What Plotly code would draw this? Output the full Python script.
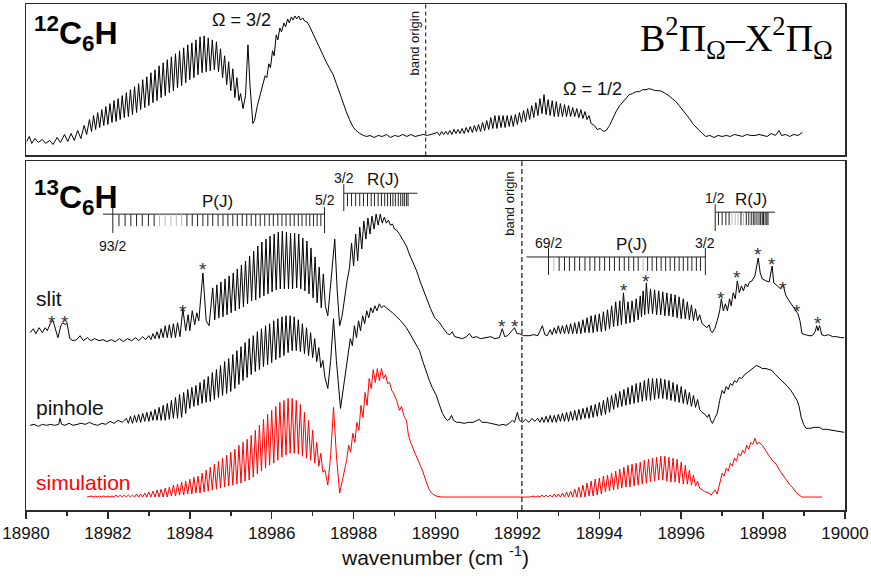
import plotly.graph_objects as go

# ---------------- data (wavenumber, intensity in arbitrary units) ----------------
X_RANGE = [18980, 19000]
TOP_RANGE = [0, 152]
BOT_RANGE = [0, 350]

C12H = [
 (18980.02,14),(18980.08,19),(18980.14,12),(18980.22,17),(18980.30,13),(18980.40,16),(18980.48,12),(18980.58,15),
 (18980.66,11),(18980.76,18),(18980.84,13),(18980.94,21),(18981.02,14),(18981.10,22),(18981.18,15),(18981.26,25),
 (18981.34,17),(18981.42,30),(18981.48,21),
 (18981.55,36),(18981.60,24),(18981.65,40),(18981.70,26),(18981.75,43),(18981.80,28),(18981.85,46),(18981.90,30),
 (18981.95,49),(18982.00,31),(18982.05,52),(18982.10,33),(18982.15,55),(18982.20,34),(18982.25,57),(18982.30,36),
 (18982.35,60),(18982.40,38),(18982.45,63),(18982.50,39),(18982.55,66),(18982.60,41),(18982.65,69),(18982.70,43),
 (18982.75,72),(18982.80,46),(18982.85,76),(18982.90,48),(18982.95,79),(18983.00,50),(18983.05,83),(18983.10,53),
 (18983.15,86),(18983.20,55),(18983.25,90),(18983.30,58),(18983.35,93),(18983.40,60),(18983.45,96),(18983.50,63),
 (18983.55,99),(18983.60,65),(18983.65,102),(18983.70,68),(18983.75,105),(18983.80,70),(18983.85,108),(18983.90,73),
 (18983.95,111),(18984.00,76),(18984.05,113),(18984.10,78),(18984.15,116),(18984.20,81),(18984.25,119),(18984.30,83),
 (18984.35,120),(18984.40,84),(18984.45,118),(18984.50,85),(18984.55,116),(18984.60,86),(18984.65,114),(18984.70,84),
 (18984.75,107),(18984.80,78),(18984.85,100),(18984.90,71),(18984.95,94),(18985.00,65),(18985.05,87),(18985.10,58),
 (18985.15,78),(18985.20,55),(18985.24,62),(18985.30,47),(18985.36,60),(18985.42,111),(18985.47,70),(18985.54,32),
 (18985.58,35),(18985.65,50),(18985.70,58),(18985.75,66),(18985.79,71),(18985.84,80),(18985.88,78),(18985.93,92),
 (18985.97,88),(18986.02,105),(18986.06,100),(18986.11,121),(18986.15,116),(18986.20,128),(18986.24,124),(18986.30,133),
 (18986.34,129),(18986.39,137),(18986.43,133),(18986.48,139),(18986.52,136),(18986.57,140),(18986.61,137),(18986.66,140),
 (18986.70,136),(18986.76,138),(18986.80,135),(18986.86,134),(18986.92,130),(18987.00,123),(18987.09,114),(18987.17,107),
 (18987.25,100),(18987.33,94),(18987.42,87),(18987.50,81),(18987.58,72),(18987.66,62),(18987.74,52),(18987.82,44),
 (18987.90,36),(18987.98,29),(18988.06,25),(18988.15,22),(18988.24,20),(18988.32,19),(18988.40,20),(18988.50,18),
 (18988.60,20),(18988.70,19),(18988.80,21),(18988.90,18),(18989.00,20),(18989.10,19),(18989.20,21),(18989.30,19),
 (18989.40,21),(18989.50,19),(18989.60,20),(18989.70,21),(18989.80,20),(18989.90,21),(18990.00,22),
 (18990.05,23),(18990.10,20),(18990.15,24),(18990.20,21),(18990.25,24),(18990.30,21),(18990.35,25),(18990.40,21),
 (18990.45,26),(18990.50,22),(18990.55,26),(18990.60,22),(18990.65,27),(18990.70,22),(18990.75,28),(18990.80,23),
 (18990.85,29),(18990.90,23),(18990.95,30),(18991.00,24),(18991.05,31),(18991.10,24),(18991.15,33),(18991.20,25),
 (18991.25,35),(18991.30,26),(18991.35,38),(18991.40,27),(18991.45,40),(18991.50,27),(18991.55,40),(18991.60,28),
 (18991.65,40),(18991.70,28),(18991.75,40),(18991.80,29),(18991.85,40),(18991.90,29),(18991.95,41),(18992.00,31),
 (18992.05,43),(18992.10,33),(18992.15,45),(18992.20,34),(18992.25,47),(18992.30,36),(18992.35,50),(18992.40,38),
 (18992.45,53),(18992.50,40),(18992.55,57),(18992.60,42),(18992.65,61),(18992.70,41),(18992.75,56),(18992.80,40),
 (18992.85,55),(18992.90,39),(18992.95,54),(18993.00,39),(18993.05,52),(18993.10,39),(18993.15,51),(18993.20,39),
 (18993.25,50),(18993.30,39),(18993.35,48),(18993.40,39),(18993.45,47),(18993.50,38),(18993.55,46),(18993.60,37),
 (18993.65,44),(18993.70,36),(18993.75,40),
 (18993.80,32),(18993.88,30),(18993.95,26),(18994.02,27),(18994.10,24),(18994.17,25),(18994.25,30),(18994.33,37),
 (18994.41,44),(18994.50,50),(18994.58,54),(18994.66,58),(18994.73,61),(18994.81,62),(18994.90,64),(18994.98,64),
 (18995.06,66),(18995.14,66),(18995.22,67),(18995.30,66),(18995.38,65),(18995.46,65),(18995.54,64),(18995.62,62),
 (18995.70,60),(18995.78,57),(18995.87,54),(18995.95,50),(18996.03,46),(18996.12,41),(18996.20,37),(18996.28,32),
 (18996.36,28),(18996.44,25),(18996.52,22),(18996.60,19),(18996.70,20),(18996.80,18),(18996.90,20),(18997.00,19),
 (18997.10,20),(18997.20,19),(18997.30,21),(18997.40,20),(18997.50,19),(18997.60,21),(18997.70,20),(18997.80,20),
 (18997.90,21),(18998.00,20),(18998.10,19),(18998.20,22),(18998.30,20),(18998.39,25),(18998.45,20),(18998.55,21),
 (18998.65,19),(18998.75,21),(18998.85,20),(18998.96,23),
]

SLIT = [
 (18980.10,178),(18980.18,182),(18980.24,177),(18980.32,183),(18980.40,178),(18980.47,183),(18980.52,180),(18980.60,188),
 (18980.66,190),(18980.72,180),(18980.78,173),(18980.85,185),(18980.90,188),(18980.96,186),(18981.00,188),(18981.07,172),
 (18981.15,170),(18981.24,171),(18981.32,175),(18981.40,170),(18981.50,173),(18981.58,170),(18981.68,172),(18981.78,170),
 (18981.88,171),(18981.98,169),(18982.08,171),(18982.18,169),(18982.28,172),(18982.38,169),(18982.48,172),(18982.58,170),
 (18982.68,173),(18982.75,170),(18982.85,174),(18982.92,171),
 (18983.00,175),(18983.05,171),(18983.10,177),(18983.15,172),(18983.20,179),(18983.25,172),(18983.30,182),(18983.35,173),
 (18983.40,185),(18983.45,173),(18983.50,186),(18983.55,173),(18983.60,187),(18983.65,173),(18983.70,188),(18983.76,174),
 (18983.83,202),(18983.90,180),(18983.96,196),(18984.00,180),(18984.06,200),(18984.12,186),(18984.17,198),(18984.22,190),
 (18984.32,238),(18984.40,190),(18984.47,185),
 (18984.56,223),(18984.61,191),(18984.66,226),(18984.71,193),(18984.76,229),(18984.81,194),(18984.86,232),(18984.91,196),
 (18984.96,235),(18985.01,198),(18985.06,238),(18985.11,200),(18985.16,242),(18985.21,202),(18985.26,246),(18985.31,204),
 (18985.36,250),(18985.41,207),(18985.46,255),(18985.51,210),(18985.56,260),(18985.61,211),(18985.66,265),(18985.71,213),
 (18985.76,269),(18985.81,215),(18985.86,272),(18985.91,217),(18985.96,275),(18986.01,219),(18986.06,277),(18986.11,221),
 (18986.16,279),(18986.21,222),(18986.26,280),(18986.31,222),(18986.36,279),(18986.41,222),(18986.46,278),(18986.51,222),
 (18986.56,278),(18986.61,223),(18986.66,277),(18986.71,222),(18986.76,273),(18986.81,220),(18986.86,270),(18986.91,217),
 (18986.96,263),(18987.01,213),(18987.06,254),(18987.11,208),(18987.16,244),(18987.21,203),
 (18987.26,237),(18987.31,205),(18987.37,195),(18987.45,230),(18987.54,272),(18987.60,220),(18987.66,185),(18987.72,195),
 (18987.78,213),(18987.84,230),(18987.90,243),
 (18987.95,268),(18988.00,245),(18988.05,277),(18988.10,250),(18988.15,284),(18988.20,262),(18988.25,290),(18988.30,272),
 (18988.35,293),(18988.40,277),(18988.45,295),(18988.50,282),(18988.55,297),(18988.60,286),(18988.65,297),(18988.70,288),
 (18988.75,294),(18988.80,288),(18988.85,291),(18988.90,286),(18988.95,287),(18989.00,282),(18989.05,281),(18989.12,277),
 (18989.20,271),(18989.29,265),(18989.36,257),(18989.45,249),(18989.54,240),(18989.62,230),(18989.70,221),(18989.78,213),
 (18989.88,202),(18989.98,193),(18990.05,190),(18990.10,188),(18990.18,183),(18990.29,177),(18990.35,176),(18990.41,179),
 (18990.47,174),(18990.56,173),(18990.66,172),(18990.75,174),(18990.83,177),(18990.90,173),(18991.00,174),(18991.10,172),
 (18991.24,173),(18991.35,174),(18991.45,172),(18991.56,173),(18991.63,182),(18991.69,174),(18991.76,175),(18991.83,178),
 (18991.88,180),(18991.93,183),(18991.99,177),(18992.05,177),(18992.15,175),(18992.29,175),(18992.40,176),(18992.50,175),
 (18992.61,185),(18992.67,176),(18992.73,175),
 (18992.80,181),(18992.85,176),(18992.90,183),(18992.95,177),(18993.00,185),(18993.05,177),(18993.10,185),(18993.15,177),
 (18993.20,186),(18993.25,177),(18993.30,187),(18993.35,177),(18993.40,188),(18993.45,177),(18993.50,189),(18993.55,177),
 (18993.60,191),(18993.65,178),(18993.70,193),(18993.75,178),(18993.80,195),(18993.85,178),(18993.90,196),(18993.95,179),
 (18994.00,197),(18994.05,179),(18994.10,199),(18994.15,180),(18994.20,201),(18994.25,182),(18994.30,205),(18994.35,184),
 (18994.40,209),(18994.45,185),(18994.50,210),(18994.54,186),(18994.59,218),(18994.65,187),(18994.70,209),(18994.75,188),
 (18994.80,210),(18994.85,189),(18994.90,212),(18994.95,191),(18995.00,215),(18995.03,194),(18995.07,220),(18995.11,196),
 (18995.15,228),(18995.20,197),(18995.25,222),(18995.30,197),(18995.35,221),(18995.40,196),(18995.45,220),(18995.50,196),
 (18995.55,219),(18995.60,195),(18995.65,218),(18995.70,195),(18995.75,217),(18995.80,194),(18995.85,216),(18995.90,193),
 (18995.95,214),(18996.00,192),(18996.05,212),(18996.10,192),(18996.15,209),(18996.20,191),(18996.25,206),(18996.30,190),
 (18996.35,202),(18996.40,190),(18996.45,196),
 (18996.51,187),(18996.58,185),(18996.63,183),(18996.68,186),(18996.72,180),(18996.76,178),(18996.82,182),(18996.88,190),
 (18996.94,200),(18996.98,212),(18997.03,200),(18997.08,207),(18997.13,200),(18997.18,212),(18997.22,205),(18997.27,218),
 (18997.32,212),(18997.37,230),(18997.42,218),(18997.47,225),(18997.52,220),(18997.57,227),(18997.62,224),(18997.67,229),
 (18997.73,230),(18997.80,235),(18997.88,253),(18997.93,238),(18997.98,232),(18998.07,230),(18998.15,229),(18998.22,245),
 (18998.26,228),(18998.35,225),(18998.43,222),(18998.49,226),(18998.55,216),(18998.62,211),(18998.68,207),(18998.76,202),
 (18998.85,197),(18998.90,190),(18998.95,177),(18999.03,176),(18999.12,175),(18999.20,175),(18999.27,179),(18999.31,185),
 (18999.34,180),(18999.38,185),(18999.43,176),(18999.50,175),(18999.60,176),(18999.70,174),(18999.80,174),(18999.90,173),
 (18999.98,173),
]

PINHOLE = [
 (18980.10,85),(18980.20,86),(18980.30,84),(18980.40,86),(18980.50,85),(18980.60,86),(18980.70,85),(18980.80,86),
 (18980.83,92),(18980.87,86),(18980.95,85),(18981.05,87),(18981.15,85),(18981.25,86),(18981.35,87),(18981.45,86),
 (18981.55,88),(18981.65,86),(18981.75,85),(18981.85,87),(18981.95,86),(18982.05,89),(18982.15,87),(18982.25,90),
 (18982.35,88),
 (18982.45,92),(18982.50,87),(18982.55,94),(18982.60,87),(18982.65,95),(18982.70,88),(18982.75,96),(18982.80,88),
 (18982.85,97),(18982.90,89),(18982.95,98),(18983.00,89),(18983.05,99),(18983.10,90),(18983.15,101),(18983.20,90),
 (18983.25,103),(18983.30,90),(18983.35,105),(18983.40,90),(18983.45,107),(18983.50,91),(18983.55,110),(18983.60,92),
 (18983.65,113),(18983.70,92),(18983.75,116),(18983.80,93),(18983.85,118),(18983.90,97),(18983.95,121),(18984.00,102),
 (18984.05,123),(18984.10,104),(18984.15,125),(18984.20,105),(18984.25,128),(18984.30,107),(18984.35,131),(18984.40,108),
 (18984.45,134),(18984.50,109),(18984.55,138),(18984.60,111),(18984.65,141),(18984.70,113),(18984.75,145),(18984.80,115),
 (18984.85,149),(18984.90,117),(18984.95,152),(18985.00,119),(18985.05,156),(18985.10,122),(18985.15,160),(18985.20,126),
 (18985.25,164),(18985.30,130),(18985.35,168),(18985.40,133),(18985.45,172),(18985.50,136),(18985.55,175),(18985.60,139),
 (18985.65,179),(18985.70,141),(18985.75,182),(18985.80,144),(18985.85,185),(18985.90,146),(18985.95,187),(18986.00,148),
 (18986.05,190),(18986.10,151),(18986.15,192),(18986.20,153),(18986.25,194),(18986.30,155),(18986.35,195),(18986.40,158),
 (18986.45,195),(18986.50,160),(18986.55,194),(18986.60,160),(18986.65,191),(18986.70,159),(18986.75,187),(18986.80,157),
 (18986.85,183),(18986.90,155),(18986.95,178),(18987.00,153),(18987.05,172),(18987.10,149),(18987.15,163),(18987.20,143),
 (18987.25,150),(18987.30,133),(18987.37,122),(18987.44,150),(18987.51,192),(18987.58,150),(18987.68,102),(18987.74,120),
 (18987.80,140),(18987.86,158),
 (18987.92,172),(18987.97,165),(18988.02,185),(18988.07,173),(18988.12,190),(18988.17,180),(18988.22,195),(18988.27,187),
 (18988.32,200),(18988.37,193),(18988.42,203),(18988.47,198),(18988.52,205),(18988.57,200),(18988.63,207),(18988.68,203),
 (18988.74,205),(18988.80,203),(18988.87,201),(18988.95,198),(18989.05,194),(18989.15,190),(18989.29,183),(18989.40,175),
 (18989.50,168),(18989.61,160),(18989.70,148),(18989.78,138),(18989.85,130),(18989.92,123),(18990.02,115),(18990.10,105),
 (18990.17,97),(18990.24,92),(18990.29,90),(18990.34,91),(18990.39,95),(18990.44,90),(18990.52,88),(18990.59,88),
 (18990.70,87),(18990.80,88),(18990.92,88),(18991.02,90),(18991.07,91),(18991.13,88),(18991.24,88),(18991.35,87),
 (18991.45,86),(18991.56,85),(18991.65,86),(18991.72,85),(18991.80,87),(18991.88,90),(18991.93,88),(18992.00,98),
 (18992.05,90),(18992.12,88),(18992.20,91),(18992.28,88),(18992.36,92),(18992.42,89),
 (18992.50,92),(18992.55,88),(18992.60,93),(18992.65,88),(18992.70,94),(18992.75,88),(18992.80,95),(18992.85,88),
 (18992.90,95),(18992.95,88),(18993.00,96),(18993.05,89),(18993.10,97),(18993.15,89),(18993.20,98),(18993.25,89),
 (18993.30,99),(18993.35,90),(18993.40,100),(18993.45,90),(18993.50,101),(18993.55,91),(18993.60,102),(18993.65,92),
 (18993.70,103),(18993.75,92),(18993.80,105),(18993.85,93),(18993.90,106),(18993.95,94),(18994.00,108),(18994.05,95),
 (18994.10,110),(18994.15,96),(18994.20,113),(18994.25,98),(18994.30,115),(18994.35,101),(18994.40,117),(18994.45,103),
 (18994.50,119),(18994.55,104),(18994.60,121),(18994.65,105),(18994.70,123),(18994.75,106),(18994.80,125),(18994.85,107),
 (18994.90,127),(18994.95,108),(18995.00,128),(18995.05,109),(18995.10,130),(18995.15,110),(18995.20,132),(18995.25,110),
 (18995.30,132),(18995.35,111),(18995.40,132),(18995.45,112),(18995.50,132),(18995.55,112),(18995.60,131),(18995.65,111),
 (18995.70,130),(18995.75,110),(18995.80,128),(18995.85,109),(18995.90,126),(18995.95,108),(18996.00,124),(18996.05,107),
 (18996.10,121),(18996.15,106),(18996.20,118),(18996.25,104),(18996.30,115),(18996.35,103),(18996.40,111),(18996.45,101),
 (18996.51,98),(18996.58,96),(18996.64,93),(18996.68,96),(18996.72,90),(18996.76,87),(18996.82,92),(18996.88,97),
 (18996.94,110),(18997.00,120),(18997.05,117),(18997.10,124),(18997.15,121),(18997.20,127),(18997.25,125),(18997.30,130),
 (18997.35,128),(18997.42,133),(18997.48,132),(18997.55,136),(18997.62,138),(18997.70,141),(18997.78,143),(18997.83,145),
 (18997.90,144),(18997.98,142),(18998.07,142),(18998.15,141),(18998.22,140),(18998.30,136),(18998.38,133),(18998.44,130),
 (18998.52,127),(18998.60,124),(18998.68,120),(18998.76,115),(18998.83,110),(18998.88,104),(18998.93,93),(18998.99,86),
 (18999.05,82),(18999.15,82),(18999.25,83),(18999.37,83),(18999.45,81),(18999.55,81),(18999.68,80),(18999.80,79),
 (18999.90,78),(18999.98,78),
]

SIMULATION = [
 (18981.49,13),
 (18981.60,14),(18981.65,13),(18981.70,14),(18981.75,13),(18981.80,14),(18981.85,13),(18981.90,14),(18981.95,13),
 (18982.00,14),(18982.05,13),(18982.10,14),(18982.15,13),(18982.20,15),(18982.25,13),(18982.30,15),(18982.35,13),
 (18982.40,15),(18982.45,13),(18982.50,15),(18982.55,13),(18982.60,15),(18982.65,13),(18982.70,16),(18982.75,13),
 (18982.80,16),(18982.85,13),(18982.90,17),(18982.95,13),(18983.00,18),(18983.05,13),(18983.10,19),(18983.15,13),
 (18983.20,20),(18983.25,13),(18983.30,21),(18983.35,13),(18983.40,22),(18983.45,13),(18983.50,23),(18983.55,14),
 (18983.60,25),(18983.65,14),(18983.70,26),(18983.75,15),(18983.80,28),(18983.85,15),(18983.90,29),(18983.95,16),
 (18984.00,31),(18984.05,16),(18984.10,33),(18984.15,17),(18984.20,34),(18984.25,17),(18984.30,37),(18984.35,18),
 (18984.40,40),(18984.45,19),(18984.50,43),(18984.55,20),(18984.60,46),(18984.65,21),(18984.70,49),(18984.75,22),
 (18984.80,52),(18984.85,23),(18984.90,55),(18984.95,24),(18985.00,58),(18985.05,25),(18985.10,61),(18985.15,26),
 (18985.20,65),(18985.25,27),(18985.30,68),(18985.35,29),(18985.40,71),(18985.45,30),(18985.50,75),(18985.55,33),
 (18985.60,80),(18985.65,36),(18985.70,85),(18985.75,39),(18985.80,91),(18985.85,42),(18985.90,96),(18985.95,45),
 (18986.00,100),(18986.05,47),(18986.10,104),(18986.15,50),(18986.20,108),(18986.25,53),(18986.30,110),(18986.35,55),
 (18986.40,112),(18986.45,57),(18986.50,112),(18986.55,57),(18986.60,110),(18986.65,56),(18986.70,106),(18986.75,54),
 (18986.80,98),(18986.85,52),(18986.90,90),(18986.95,50),(18987.00,80),(18987.05,47),(18987.10,68),(18987.15,44),
 (18987.20,57),(18987.25,38),
 (18987.30,40),(18987.37,25),(18987.44,55),(18987.51,103),(18987.58,55),(18987.66,17),(18987.72,30),(18987.78,42),
 (18987.83,50),
 (18987.88,65),(18987.93,58),(18987.98,77),(18988.03,68),(18988.08,88),(18988.13,80),(18988.18,105),(18988.23,93),
 (18988.28,118),(18988.33,105),(18988.38,132),(18988.43,122),(18988.48,141),(18988.53,128),(18988.58,142),(18988.63,130),
 (18988.68,142),(18988.73,132),(18988.78,136),(18988.83,127),(18988.88,128),(18988.93,120),(18988.98,117),(18989.05,110),
 (18989.12,100),(18989.17,104),(18989.24,93),(18989.29,90),(18989.34,75),(18989.40,67),(18989.50,57),(18989.60,47),
 (18989.68,40),(18989.76,30),(18989.85,20),(18989.93,16),(18990.02,14),(18990.15,13),(18991.00,13),(18992.00,13),
 (18992.30,13),
 (18992.40,14),(18992.45,13),(18992.50,14),(18992.55,13),(18992.60,15),(18992.65,13),(18992.70,15),(18992.75,13),
 (18992.80,15),(18992.85,13),(18992.90,16),(18992.95,13),(18993.00,16),(18993.05,13),(18993.10,17),(18993.15,13),
 (18993.20,18),(18993.25,13),(18993.30,19),(18993.35,13),(18993.40,21),(18993.45,13),(18993.50,23),(18993.55,13),
 (18993.60,25),(18993.65,13),(18993.70,27),(18993.75,14),(18993.80,29),(18993.85,14),(18993.90,31),(18993.95,15),
 (18994.00,32),(18994.05,16),(18994.10,34),(18994.15,18),(18994.20,35),(18994.25,19),(18994.30,37),(18994.35,20),
 (18994.40,39),(18994.45,21),(18994.50,41),(18994.55,22),(18994.60,43),(18994.65,23),(18994.70,45),(18994.75,23),
 (18994.80,46),(18994.85,24),(18994.90,47),(18994.95,25),(18995.00,48),(18995.05,26),(18995.10,50),(18995.15,27),
 (18995.20,51),(18995.25,28),(18995.30,52),(18995.35,29),(18995.40,53),(18995.45,30),(18995.50,54),(18995.55,30),
 (18995.60,54),(18995.65,29),(18995.70,53),(18995.75,28),(18995.80,52),(18995.85,28),(18995.90,51),(18995.95,27),
 (18996.00,48),(18996.05,26),(18996.10,45),(18996.15,26),(18996.20,40),(18996.25,25),(18996.30,35),(18996.35,24),
 (18996.40,29),(18996.45,22),
 (18996.52,20),(18996.60,18),(18996.68,17),(18996.73,15),(18996.78,18),(18996.83,20),(18996.88,16),(18996.95,28),
 (18997.00,37),(18997.05,34),(18997.10,42),(18997.15,39),(18997.20,47),(18997.25,44),(18997.30,52),(18997.35,49),
 (18997.40,57),(18997.45,54),(18997.50,60),(18997.55,57),(18997.60,65),(18997.65,61),(18997.70,68),(18997.75,66),
 (18997.80,72),(18997.85,66),(18997.90,68),(18997.98,65),(18998.05,60),(18998.12,56),(18998.22,50),(18998.32,46),
 (18998.40,40),(18998.48,35),(18998.56,30),(18998.64,26),(18998.71,23),(18998.80,18),(18998.88,15),(18998.95,13),
 (18999.10,13),(18999.30,13),(18999.44,13),
]

BAND_ORIGIN_12 = 18989.76
BAND_ORIGIN_13 = 18992.11

# rotational line positions (cm-1)
P_LEFT = [18982.12,18982.27,18982.42,18982.56,18982.70,18982.84,18982.99,18983.13,18983.26,18983.40,18983.54,
          18983.67,18983.80,18983.93,18984.06,18984.19,18984.32,18984.44,18984.56,18984.69,18984.81,18984.93,
          18985.05,18985.16,18985.28,18985.39,18985.50,18985.61,18985.72,18985.83,18985.94,18986.04,18986.15,
          18986.25,18986.35,18986.45,18986.55,18986.65,18986.74,18986.84,18986.93,18987.02,18987.11,18987.20,18987.29]
P_LEFT_FAINT = [8, 9, 10, 11, 12]
R_LEFT = [18987.76,18987.85,18987.95,18988.05,18988.15,18988.24,18988.34,18988.43,18988.51,18988.60,18988.68,
          18988.76,18988.83,18988.90,18988.96,18989.02,18989.09,18989.15,18989.20,18989.24,18989.29,18989.33]
R_LEFT_FAINT = []
P_RIGHT = [18992.76,18992.89,18993.02,18993.15,18993.27,18993.40,18993.52,18993.65,18993.77,18993.89,18994.01,
           18994.13,18994.25,18994.37,18994.49,18994.61,18994.72,18994.84,18994.95,18995.07,18995.18,18995.29,
           18995.40,18995.51,18995.62,18995.73,18995.84,18995.95,18996.05,18996.16,18996.26,18996.37,18996.47,18996.59]
P_RIGHT_FAINT = [1, 19]
R_RIGHT = [18996.83,18996.91,18997.00,18997.09,18997.17,18997.24,18997.32,18997.39,18997.46,18997.52,18997.59,
           18997.65,18997.71,18997.76,18997.80,18997.85,18997.90,18997.94,18997.98,18998.01,18998.05,18998.09,18998.12]
R_RIGHT_FAINT = [5, 6, 7, 9]

# impurity lines marked with asterisks (cm-1, height)
STARS = [(18980.63,192),(18980.95,192),(18983.83,203),(18984.32,245),(18991.63,188),(18991.95,188),
         (18994.61,224),(18995.15,233),(18996.98,216),(18997.37,237),(18997.88,260),(18998.22,250),
         (18998.49,226),(18998.83,203),(18999.34,191)]

# ---------------- styling ----------------
SANS = "Liberation Sans, Arial, Helvetica, sans-serif"
SERIF = "Liberation Serif, Times New Roman, serif"
FRAME = "#2a2a2a"

fig = go.Figure()

def add_curve(pts, color, xa, ya):
    fig.add_trace(go.Scatter(x=[p[0] for p in pts], y=[p[1] for p in pts], mode="lines",
                             line=dict(color=color, width=1), xaxis=xa, yaxis=ya,
                             hoverinfo="skip", showlegend=False))

add_curve(C12H, "black", "x2", "y2")
add_curve(SLIT, "black", "x", "y")
add_curve(PINHOLE, "black", "x", "y")
add_curve(SIMULATION, "#ff0000", "x", "y")

# comb geometry: (positions, faint idx, line_y, line_x0, line_x1, tick_bottom, long_top, long_bottom, long_idx)
COMBS = [
    (P_LEFT, P_LEFT_FAINT, 297, 18981.88, 18987.29, 285, 304, 278, [0, len(P_LEFT) - 1]),
    (R_LEFT, R_LEFT_FAINT, 318, 18987.76, 18989.56, 305, 327, 300, [0]),
    (P_RIGHT, P_RIGHT_FAINT, 254, 18992.22, 18996.59, 240, 263, 236, [0, len(P_RIGHT) - 1]),
    (R_RIGHT, R_RIGHT_FAINT, 299, 18996.83, 18998.29, 286, 307, 280, [0]),
]
for pos, faint, ly, lx0, lx1, tb, lt, lb, long_idx in COMBS:
    dark_x, dark_y, light_x, light_y = [], [], [], []
    for i, xv in enumerate(pos):
        if i in long_idx:
            dark_x += [xv, xv, None]; dark_y += [lt, lb, None]
        elif i in faint:
            light_x += [xv, xv, None]; light_y += [ly, tb, None]
        else:
            dark_x += [xv, xv, None]; dark_y += [ly, tb, None]
    dark_x += [lx0, lx1, None]; dark_y += [ly, ly, None]
    fig.add_trace(go.Scatter(x=dark_x, y=dark_y, mode="lines", line=dict(color="#222", width=1),
                             hoverinfo="skip", showlegend=False, xaxis="x", yaxis="y"))
    if light_x:
        fig.add_trace(go.Scatter(x=light_x, y=light_y, mode="lines", line=dict(color="#bbbbbb", width=1),
                                 hoverinfo="skip", showlegend=False, xaxis="x", yaxis="y"))

# band origin dashed lines
fig.add_shape(type="line", xref="x2", yref="y2 domain", x0=BAND_ORIGIN_12, x1=BAND_ORIGIN_12, y0=0, y1=1,
              line=dict(color="#333", width=1.2, dash="4px,3px"))
fig.add_shape(type="line", xref="x", yref="y domain", x0=BAND_ORIGIN_13, x1=BAND_ORIGIN_13, y0=0, y1=1,
              line=dict(color="#444", width=1.5, dash="5px,3px"))

ann = []
def txt(x, y, text, size, xr="x", yr="y", color="#111", family=SANS, xanchor="center", angle=0):
    ann.append(dict(x=x, y=y, xref=xr, yref=yr, text=text, showarrow=False, xanchor=xanchor,
                    yanchor="middle", textangle=angle, font=dict(family=family, size=size, color=color)))

# upper panel labels
txt(18980.15, 122, "<b><sup>12</sup>C<sub>6</sub>H</b>", 32, "x2", "y2", "black", xanchor="left")
txt(18999.75, 118, "B<sup>2</sup>Π<sub>Ω</sub>–X<sup>2</sup>Π<sub>Ω</sub>", 38, "x2", "y2", "black", SERIF, xanchor="right")
txt(18985.27, 136, "Ω = 3/2", 18, "x2", "y2")
txt(18993.83, 67, "Ω = 1/2", 18, "x2", "y2")
txt(BAND_ORIGIN_12 - 0.27, 112, "band origin", 13, "x2", "y2", angle=-90)

# lower panel labels
txt(18980.15, 314, "<b><sup>13</sup>C<sub>6</sub>H</b>", 32, "x", "y", "black", xanchor="left")
txt(BAND_ORIGIN_13 - 0.30, 307, "band origin", 13, angle=-90)
txt(18980.2, 212, "slit", 21, xanchor="left")
txt(18980.2, 103, "pinhole", 21, xanchor="left")
txt(18980.2, 28, "simulation", 21, color="#ff0000", xanchor="left")

txt(18984.68, 310, "P(J)", 17)
txt(18982.12, 265, "93/2", 14)
txt(18987.29, 311, "5/2", 14)
txt(18987.76, 333, "3/2", 14)
txt(18988.71, 332, "R(J)", 17)
txt(18994.78, 267, "P(J)", 17)
txt(18992.76, 268, "69/2", 14)
txt(18996.59, 268, "3/2", 14)
txt(18996.83, 313, "1/2", 14)
txt(18997.71, 312, "R(J)", 17)

for sx, sy in STARS:
    txt(sx, sy - 4, "*", 19, color="#333")

fig.update_layout(annotations=ann)

axis_common = dict(showline=True, mirror=True, linecolor=FRAME, linewidth=1.5, showgrid=False, zeroline=False)
fig.update_layout(
    width=871, height=584,
    margin=dict(l=26, r=26, t=2, b=74),
    paper_bgcolor="white", plot_bgcolor="white",
    showlegend=False, hovermode=False,
    xaxis=dict(domain=[0, 1], range=X_RANGE, anchor="y", ticks="outside", ticklen=7, tickwidth=1.5,
               tickcolor=FRAME, tick0=18980, dtick=2, tickformat="d",
               tickfont=dict(family=SANS, size=17, color="#111"),
               minor=dict(dtick=1, ticks="outside", ticklen=4, tickwidth=1.5, tickcolor=FRAME, showgrid=False),
               title=dict(text="wavenumber (cm <sup>-1</sup>)", font=dict(family=SANS, size=21, color="#111"), standoff=6),
               **axis_common),
    yaxis=dict(domain=[0, 0.689], range=BOT_RANGE, anchor="x", showticklabels=False, ticks="", **axis_common),
    xaxis2=dict(domain=[0, 1], range=X_RANGE, anchor="y2", matches="x", showticklabels=False, ticks="", **axis_common),
    yaxis2=dict(domain=[0.7008, 1], range=TOP_RANGE, anchor="x2", showticklabels=False, ticks="", **axis_common),
)

fig.write_html("out.html", config={"displayModeBar": False, "staticPlot": True},
               post_script="document.body.style.margin='0';")
